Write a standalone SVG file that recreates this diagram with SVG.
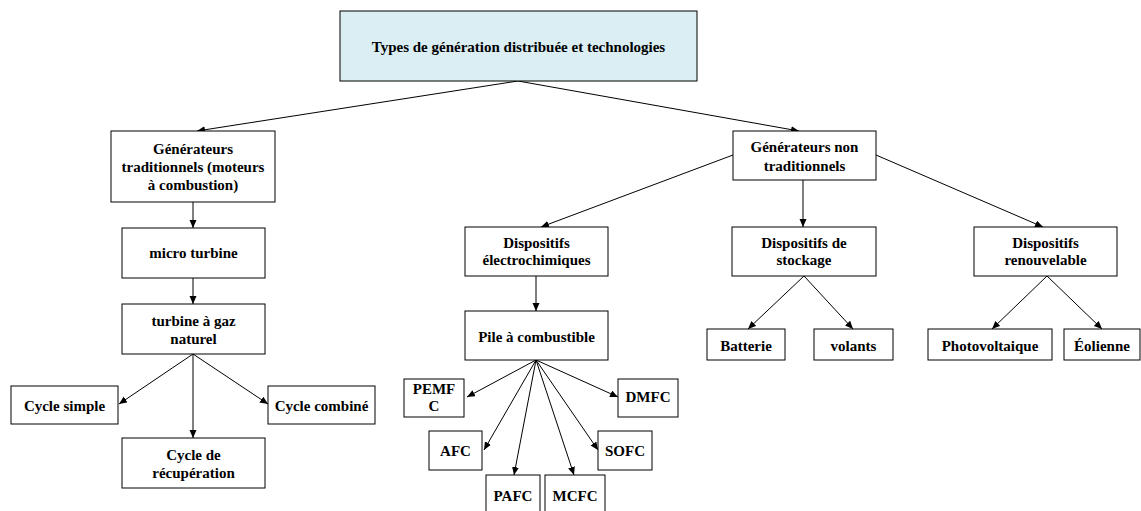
<svg xmlns="http://www.w3.org/2000/svg" width="1141" height="511" viewBox="0 0 1141 511">
<style>
.box{fill:#ffffff;stroke:#000000;stroke-width:1}
.root{fill:#DAEEF3;stroke:#000000;stroke-width:1}
.t{font-family:"Liberation Serif","Times New Roman",serif;font-weight:bold;font-size:15px;fill:#000000;text-anchor:middle}
.c{stroke:#000000;stroke-width:1;fill:none;marker-end:url(#ah)}
</style>
<defs>
<marker id="ah" markerUnits="userSpaceOnUse" markerWidth="9" markerHeight="8" refX="8" refY="3.5" orient="auto">
<path d="M0,0 L8,3.5 L0,7 z" fill="#000000"/>
</marker>
</defs>
<rect width="1141" height="511" fill="#ffffff"/>
<g id="connectors">
<line class="c" x1="518" y1="81" x2="197" y2="131"/>
<line class="c" x1="518" y1="81" x2="799" y2="131"/>
<line class="c" x1="193" y1="202" x2="193" y2="228"/>
<line class="c" x1="193" y1="278" x2="193" y2="304"/>
<line class="c" x1="193" y1="354" x2="119" y2="404"/>
<line class="c" x1="193" y1="354" x2="193" y2="438"/>
<line class="c" x1="193" y1="354" x2="268" y2="404"/>
<line class="c" x1="733" y1="155" x2="541" y2="227"/>
<line class="c" x1="803" y1="180" x2="803" y2="227"/>
<line class="c" x1="876" y1="155" x2="1043" y2="227"/>
<line class="c" x1="536" y1="276" x2="536" y2="311"/>
<line class="c" x1="536" y1="360" x2="467" y2="397"/>
<line class="c" x1="536" y1="360" x2="484" y2="450"/>
<line class="c" x1="536" y1="360" x2="514" y2="475"/>
<line class="c" x1="536" y1="360" x2="574" y2="475"/>
<line class="c" x1="536" y1="360" x2="598" y2="450"/>
<line class="c" x1="536" y1="360" x2="618" y2="397"/>
<line class="c" x1="804" y1="276" x2="748" y2="329"/>
<line class="c" x1="804" y1="276" x2="853" y2="329"/>
<line class="c" x1="1047" y1="276" x2="992" y2="329"/>
<line class="c" x1="1047" y1="276" x2="1102" y2="329"/>
</g>
<g id="root">
<rect class="root" x="340" y="11" width="357" height="70"/>
<text class="t" x="518.5" y="52">Types de génération distribuée et technologies</text>
</g>
<g id="gen-trad">
<rect class="box" x="111" y="131" width="164" height="71"/>
<text class="t" x="193" y="154">Générateurs</text>
<text class="t" x="193" y="172">traditionnels (moteurs</text>
<text class="t" x="193" y="190">à combustion)</text>
</g>
<g id="micro-turbine">
<rect class="box" x="122" y="228" width="143" height="50"/>
<text class="t" x="193.5" y="258">micro turbine</text>
</g>
<g id="turbine-gaz">
<rect class="box" x="122" y="304" width="143" height="50"/>
<text class="t" x="193.5" y="326">turbine à gaz</text>
<text class="t" x="193.5" y="343.5">naturel</text>
</g>
<g id="cycle-simple">
<rect class="box" x="11" y="386" width="107" height="38"/>
<text class="t" x="64.5" y="410.5">Cycle simple</text>
</g>
<g id="cycle-recup">
<rect class="box" x="122" y="438" width="143" height="50"/>
<text class="t" x="193.5" y="459.5">Cycle de</text>
<text class="t" x="193.5" y="477.5">récupération</text>
</g>
<g id="cycle-combine">
<rect class="box" x="268" y="386" width="107" height="38"/>
<text class="t" x="321.5" y="410.5">Cycle combiné</text>
</g>
<g id="gen-non-trad">
<rect class="box" x="733" y="131" width="143" height="49"/>
<text class="t" x="804.5" y="152">Générateurs non</text>
<text class="t" x="804.5" y="171">traditionnels</text>
</g>
<g id="electrochimiques">
<rect class="box" x="465" y="227" width="143" height="49"/>
<text class="t" x="536.5" y="248">Dispositifs</text>
<text class="t" x="536.5" y="265">électrochimiques</text>
</g>
<g id="stockage">
<rect class="box" x="732" y="227" width="144" height="49"/>
<text class="t" x="804" y="248">Dispositifs de</text>
<text class="t" x="804" y="265">stockage</text>
</g>
<g id="renouvelable">
<rect class="box" x="974" y="227" width="143" height="49"/>
<text class="t" x="1045.5" y="248">Dispositifs</text>
<text class="t" x="1045.5" y="265">renouvelable</text>
</g>
<g id="pile">
<rect class="box" x="465" y="311" width="143" height="49"/>
<text class="t" x="536.5" y="341.5">Pile à combustible</text>
</g>
<g id="pemfc">
<rect class="box" x="404" y="379" width="60" height="38"/>
<text class="t" x="434" y="394">PEMF</text>
<text class="t" x="434" y="411">C</text>
</g>
<g id="afc">
<rect class="box" x="429" y="431" width="53" height="39"/>
<text class="t" x="455.5" y="456">AFC</text>
</g>
<g id="pafc">
<rect class="box" x="486" y="475" width="54" height="40"/>
<text class="t" x="513" y="500.5">PAFC</text>
</g>
<g id="mcfc">
<rect class="box" x="545" y="475" width="60" height="40"/>
<text class="t" x="575" y="500.5">MCFC</text>
</g>
<g id="sofc">
<rect class="box" x="598" y="431" width="54" height="39"/>
<text class="t" x="625" y="456">SOFC</text>
</g>
<g id="dmfc">
<rect class="box" x="618" y="379" width="60" height="38"/>
<text class="t" x="648" y="401.5">DMFC</text>
</g>
<g id="batterie">
<rect class="box" x="707" y="329" width="78" height="31"/>
<text class="t" x="746" y="350.5">Batterie</text>
</g>
<g id="volants">
<rect class="box" x="814" y="329" width="79" height="31"/>
<text class="t" x="853.5" y="350.5">volants</text>
</g>
<g id="photovoltaique">
<rect class="box" x="928" y="329" width="124" height="31"/>
<text class="t" x="990" y="350.5">Photovoltaique</text>
</g>
<g id="eolienne">
<rect class="box" x="1064" y="329" width="76" height="31"/>
<text class="t" x="1102" y="350.5">Éolienne</text>
</g>
</svg>
